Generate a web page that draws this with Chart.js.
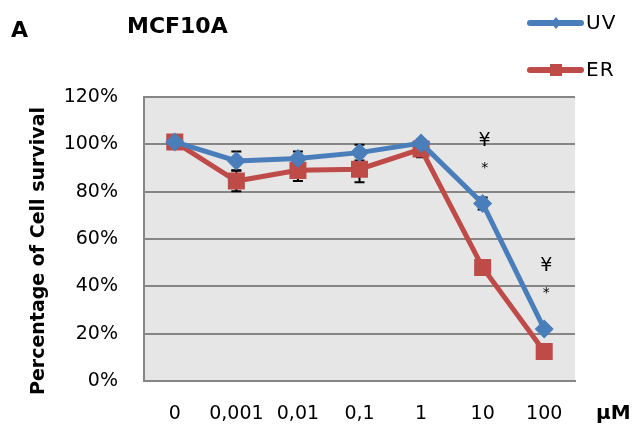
<!DOCTYPE html>
<html><head><meta charset="utf-8">
<script src="https://cdn.jsdelivr.net/npm/chart.js@4/dist/chart.umd.min.js"></script>
<style>html,body{margin:0;padding:0;background:#fff}</style>
</head><body>
<canvas id="c" width="633" height="428"></canvas>
<script>
// Doses (µM) on the x axis
const doses = ['0', '0,001', '0,01', '0,1', '1', '10', '100'];
// Cell survival (%) for each treatment
const uvValues = [101, 93, 94, 96.5, 100.5, 75, 22];
const erValues = [101, 84.5, 89, 89.5, 98, 48, 12.5];
// Standard deviation (%)
const uvErrors = [1, 4, 3, 3.3, 1.5, 2.5, 0.5];
const erErrors = [1, 4.3, 4.5, 5.5, 3.5, 0.5, 0.5];
// Significance marks: dose index, symbol, height (%)
const markIndex = [5, 5, 6, 6];
const markSymbol = ['¥', '*', '¥', '*'];
const markLevel = [101.5, 90, 48.5, 37];
const yTicks = [0, 20, 40, 60, 80, 100, 120];

const BLUE = '#4a7ebb';
const RED = '#be4b48';
const GRID = '#868686';
const FONT = "'DejaVu Sans', sans-serif";

const decorations = {
  id: 'decorations',
  beforeDraw(chart) {
    const { ctx, chartArea: a } = chart;
    ctx.save();
    ctx.fillStyle = '#e6e6e6';
    ctx.fillRect(a.left, a.top, a.right - a.left, a.bottom - a.top);
    ctx.restore();
  },
  beforeDatasetsDraw(chart) {
    const { ctx, scales: { x, y } } = chart;
    ctx.save();
    ctx.strokeStyle = '#000';
    ctx.lineWidth = 2;
    const bars = (vals, errs) => {
      vals.forEach((v, i) => {
        const px = x.getPixelForValue(i);
        const top = y.getPixelForValue(v + errs[i]);
        const bot = y.getPixelForValue(v - errs[i]);
        ctx.beginPath();
        ctx.moveTo(px, top); ctx.lineTo(px, bot);
        ctx.moveTo(px - 5, top); ctx.lineTo(px + 5, top);
        ctx.moveTo(px - 5, bot); ctx.lineTo(px + 5, bot);
        ctx.stroke();
      });
    };
    bars(uvValues, uvErrors);
    bars(erValues, erErrors);
    ctx.restore();
  },
  afterDraw(chart) {
    const { ctx, scales: { x, y } } = chart;
    ctx.save();
    ctx.fillStyle = '#000';
    ctx.textAlign = 'center';
    ctx.textBaseline = 'middle';
    markIndex.forEach((idx, k) => {
      ctx.font = markSymbol[k] === '*' ? `14px ${FONT}` : `19px ${FONT}`;
      ctx.fillText(markSymbol[k], x.getPixelForValue(idx) + 2, y.getPixelForValue(markLevel[k]));
    });
    // y axis title
    ctx.save();
    ctx.translate(39, 251);
    ctx.rotate(-Math.PI / 2);
    ctx.font = `bold 19px ${FONT}`;
    ctx.fillText('Percentage of Cell survival', 0, 0);
    ctx.restore();
    // panel letter and cell line
    ctx.textAlign = 'left';
    ctx.font = `bold 22px ${FONT}`;
    ctx.fillText('A', 11, 31);
    ctx.fillText('MCF10A', 127, 27);
    // unit label
    ctx.font = `bold 20px ${FONT}`;
    ctx.fillText('µM', 596, 414);
    // legend
    const legend = [['UV', BLUE, 23, 'diamond'], ['ER', RED, 70, 'square']];
    legend.forEach(([label, color, ly, shape]) => {
      ctx.strokeStyle = color;
      ctx.fillStyle = color;
      ctx.lineWidth = 6;
      ctx.lineCap = 'round';
      ctx.beginPath();
      ctx.moveTo(530, ly); ctx.lineTo(581, ly);
      ctx.stroke();
      if (shape === 'square') {
        ctx.fillRect(550, ly - 6, 12, 12);
      } else {
        ctx.beginPath();
        ctx.moveTo(556, ly - 6); ctx.lineTo(561, ly); ctx.lineTo(556, ly + 6); ctx.lineTo(551, ly);
        ctx.closePath(); ctx.fill();
      }
      ctx.fillStyle = '#000';
      ctx.font = `20px ${FONT}`;
      ctx.letterSpacing = '1px';
      ctx.textBaseline = 'middle';
      ctx.fillText(label, 586, ly + 1);
      ctx.letterSpacing = '0px';
    });
    ctx.restore();
  }
};

new Chart(document.getElementById('c'), {
  type: 'line',
  data: {
    labels: doses,
    datasets: [
      { label: 'UV', data: uvValues, borderColor: BLUE, backgroundColor: BLUE, borderWidth: 5,
        pointStyle: 'rectRot', pointRadius: 6, pointHoverRadius: 6, tension: 0 },
      { label: 'ER', data: erValues, borderColor: RED, backgroundColor: RED, borderWidth: 5,
        pointStyle: 'rect', pointRadius: 8.5, pointHoverRadius: 8.5, tension: 0 }
    ]
  },
  options: {
    responsive: false,
    animation: false,
    devicePixelRatio: 1,
    layout: { padding: { top: 97, right: 58, left: 0, bottom: 0 } },
    plugins: { legend: { display: false }, tooltip: { enabled: false } },
    scales: {
      x: {
        offset: true,
        grid: { display: false, drawTicks: false },
        border: { color: GRID, width: 2 },
        ticks: { color: '#000', font: { family: FONT, size: 19 }, padding: 22, maxRotation: 0, autoSkip: false },
        afterFit(s) { s.height = 47; }
      },
      y: {
        min: 0, max: 120,
        afterBuildTicks(s) { s.ticks = yTicks.map(v => ({ value: v })); },
        grid: { color: GRID, lineWidth: 2, drawTicks: false },
        border: { color: GRID, width: 2 },
        ticks: { color: '#000', font: { family: FONT, size: 19 }, padding: 26, callback: v => v + '%' },
        afterFit(s) { s.width = 144; }
      }
    }
  },
  plugins: [decorations]
});
</script>
</body></html>
